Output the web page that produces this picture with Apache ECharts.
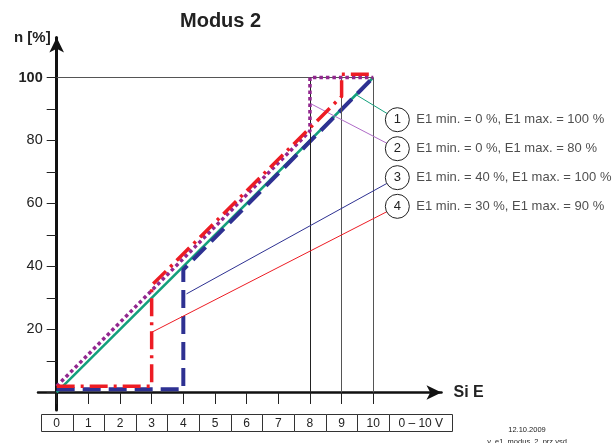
<!DOCTYPE html>
<html>
<head>
<meta charset="utf-8">
<script src="https://cdn.jsdelivr.net/npm/echarts@6/dist/echarts.min.js"></script>
<style>
html, body { margin: 0; padding: 0; background: #fff; }
#chart { width: 616px; height: 443px; }
</style>
</head>
<body>
<div id="chart"></div>
<script>
// axis steps
const xTicks = [0, 1, 2, 3, 4, 5, 6, 7, 8, 9, 10];
const yTicks = [0, 10, 20, 30, 40, 50, 60, 70, 80, 90, 100];
const yLabels = [20, 40, 60, 80, 100];

// curves, [Si E, n %]
const curve1 = [[0, 0], [10, 100]];
const curve2 = [[0, 2], [8, 83], [8, 100], [10, 100]];
const curve3 = [[0, 1], [4, 1], [4, 39], [10, 100]];
const curve4 = [[0, 2], [3, 2], [3, 34], [9, 94], [9, 101], [10, 101]];

// callouts: where the thin line leaves each curve
const calloutNames = [
  'E1 min. = 0 %, E1 max. = 100 %',
  'E1 min. = 0 %, E1 max. = 80 %',
  'E1 min. = 40 %, E1 max. = 100 %',
  'E1 min. = 30 %, E1 max. = 90 %'
];
const calloutFrom = [[9.46, 94.5], [8.04, 91.6], [4.1, 31.3], [3.0, 19.1]];

// table under the axis
const tableLabels = ['0', '1', '2', '3', '4', '5', '6', '7', '8', '9', '10', '0 – 10 V'];

const font = 'Liberation Sans, Arial, sans-serif';
const colors = ['#13a07c', '#92278f', '#2e3192', '#ed1c24'];
const calloutColors = ['#13a07c', '#b06cc8', '#2e3192', '#ed1c24'];
// bubble spots, same units as the data (layout only)
const bubbleAt = [[10.76, 86.6], [10.76, 77.4], [10.76, 68.2], [10.76, 59.1]];

let myChart = echarts.init(document.getElementById('chart'));

let calloutSeries = calloutFrom.map(function (p, i) {
  return {
    type: 'line',
    data: [p, bubbleAt[i]],
    symbol: 'none',
    clip: false,
    silent: true,
    z: 5,
    lineStyle: { color: calloutColors[i], width: 1 }
  };
});

let option = {
  animation: false,
  backgroundColor: '#fff',
  textStyle: { fontFamily: font },
  title: [
    { text: 'Modus 2', left: 175, top: 6, textStyle: { fontSize: 20, fontWeight: 'bold', color: '#222', fontFamily: font } },
    { text: '12.10.2009', left: 527, top: 426, textAlign: 'center', padding: 0, textStyle: { fontSize: 7.5, fontWeight: 'normal', color: '#222', fontFamily: font } },
    { text: 'v_e1_modus_2_prz.vsd', left: 527, top: 437.5, textAlign: 'center', padding: 0, textStyle: { fontSize: 7.5, fontWeight: 'normal', color: '#222', fontFamily: font } }
  ],
  grid: { left: 38, right: 174.5, top: 37.5, bottom: 33 },
  xAxis: {
    type: 'value',
    min: -0.59,
    max: 12.155,
    name: 'Si E',
    nameLocation: 'end',
    nameGap: 12,
    nameTextStyle: { fontSize: 16, fontWeight: 'bold', color: '#222', fontFamily: font },
    axisLine: { onZero: true, symbol: ['none', 'arrow'], symbolSize: [11, 15], lineStyle: { color: '#111', width: 2.5 } },
    axisTick: { show: true, inside: false, length: 11.5, customValues: xTicks, lineStyle: { color: '#222', width: 1 } },
    axisLabel: { show: false },
    splitLine: { show: false }
  },
  yAxis: {
    type: 'value',
    min: -5.56,
    max: 112.7,
    name: 'n [%]',
    nameLocation: 'end',
    nameGap: 0,
    nameTextStyle: { fontSize: 15, fontWeight: 'bold', color: '#222', align: 'right', verticalAlign: 'middle', padding: [0, 6, 0, 0], fontFamily: font },
    axisLine: { onZero: true, symbol: ['none', 'arrow'], symbolSize: [11, 15], lineStyle: { color: '#111', width: 3 } },
    axisTick: { show: true, length: 10, customValues: yTicks, lineStyle: { color: '#222', width: 1 } },
    axisLabel: {
      customValues: yLabels,
      margin: -4.7,
      formatter: function (v) {
        return v === 100 ? '{b|' + v + '}' : '{n|' + v + '}';
      },
      rich: {
        b: { fontSize: 14.5, fontWeight: 'bold', color: '#222', fontFamily: font },
        n: { fontSize: 14.5, color: '#222', fontFamily: font }
      }
    },
    splitLine: { show: false }
  },
  series: [
    {
      type: 'line',
      data: curve1,
      symbol: 'none',
      z: 3,
      lineStyle: { color: colors[0], width: 2.5 },
      markLine: {
        silent: true,
        symbol: 'none',
        label: { show: false },
        lineStyle: { type: 'solid', width: 1, color: '#555' },
        data: [
          [{ coord: [0, 100] }, { coord: [10, 100] }],
          [{ coord: [8, 0], lineStyle: { color: '#222' } }, { coord: [8, 100] }],
          [{ coord: [9, 0] }, { coord: [9, 100] }],
          [{ coord: [10, 0] }, { coord: [10, 100] }]
        ]
      }
    },
    {
      type: 'line',
      data: curve3,
      symbol: 'none',
      z: 4,
      lineStyle: { color: colors[2], width: 4, type: [18, 8] }
    },
    {
      type: 'line',
      data: curve2,
      symbol: 'none',
      z: 5,
      lineStyle: { color: colors[1], width: 3.5, type: [3.5, 3] }
    },
    {
      type: 'line',
      data: curve4,
      symbol: 'none',
      z: 6,
      lineStyle: { color: colors[3], width: 3.5, type: [18, 6, 3, 6] }
    }
  ].concat(calloutSeries).concat([
    {
      type: 'scatter',
      data: bubbleAt,
      clip: false,
      silent: true,
      z: 10,
      symbol: 'circle',
      symbolSize: 24,
      itemStyle: { color: '#fff', borderColor: '#222', borderWidth: 1, opacity: 1 },
      label: {
        show: true,
        position: 'inside',
        fontSize: 13,
        color: '#222',
        fontFamily: font,
        formatter: function (p) { return String(p.dataIndex + 1); }
      }
    },
    {
      type: 'scatter',
      data: bubbleAt,
      clip: false,
      silent: true,
      z: 10,
      symbolSize: 0,
      label: {
        show: true,
        position: 'right',
        distance: 19,
        fontSize: 13,
        color: '#222',
        fontFamily: font,
        formatter: function (p) { return calloutNames[p.dataIndex]; }
      }
    },
    {
      type: 'custom',
      silent: true,
      clip: false,
      z: 10,
      data: tableLabels.map(function (t, i) { return [i]; }),
      renderItem: function (params, api) {
        let i = api.value(0);
        let x0 = i - 0.5;
        let x1 = i < 11 ? i + 0.5 : 12.5;
        if (i === 11) { x0 = 10.5; }
        let a = api.coord([x0, 0]);
        let b = api.coord([x1, 0]);
        let top = Math.round(a[1] + 22) + 0.5;
        let h = 17;
        return {
          type: 'group',
          children: [
            {
              type: 'rect',
              shape: { x: Math.round(a[0]) + 0.5, y: top, width: Math.round(b[0] - a[0]), height: h },
              style: { fill: '#fff', stroke: '#333', lineWidth: 1 }
            },
            {
              type: 'text',
              style: {
                text: tableLabels[i],
                x: (a[0] + b[0]) / 2,
                y: top + h / 2 + 0.5,
                align: 'center',
                verticalAlign: 'middle',
                fontSize: 12,
                fontFamily: font,
                fill: '#222'
              }
            }
          ]
        };
      }
    }
  ])
};

myChart.setOption(option);
</script>
</body>
</html>
